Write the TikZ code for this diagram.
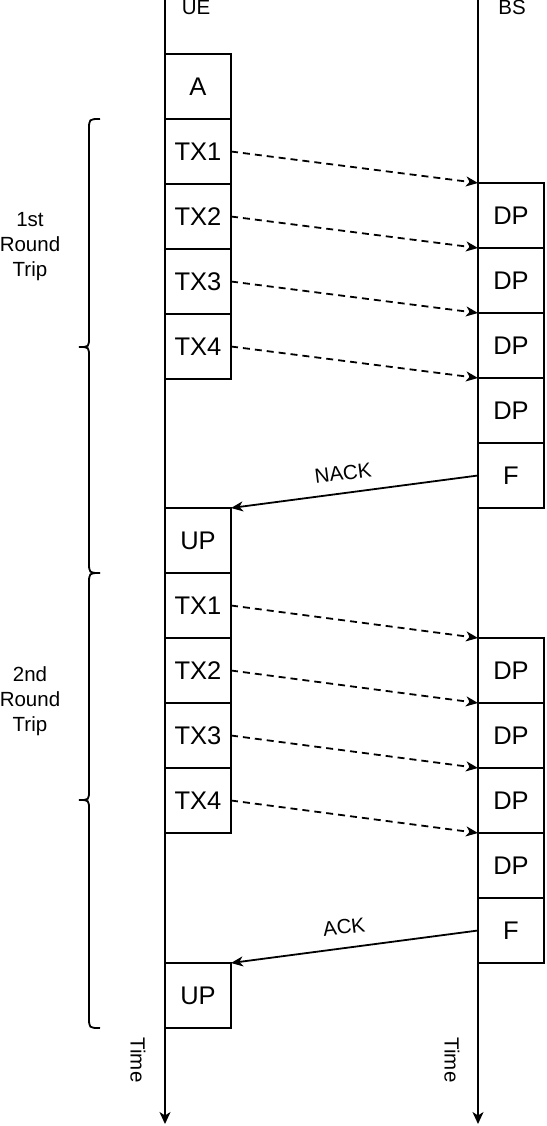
\documentclass[tikz,border=0pt]{standalone}
\usepackage{fontspec}
\setmainfont{Liberation Sans}
\usetikzlibrary{arrows.meta}
\begin{document}
\begin{tikzpicture}[x=1pt,y=-1pt,
  box/.style={draw=black, line width=1.8pt, minimum width=66pt, minimum height=65pt, inner sep=0pt, outer sep=0pt, font=\fontsize{25.5}{30}\selectfont},
  lbl/.style={font=\fontsize{20.5}{25}\selectfont, inner sep=0pt},
  life/.style={line width=1.8pt, -{Stealth[length=12pt,width=11pt,inset=3.5pt]}},
  msg/.style={line width=1.8pt, dash pattern=on 7pt off 5pt, -{Stealth[length=12pt,width=10pt,inset=3.5pt]}},
  reply/.style={line width=1.8pt, -{Stealth[length=12pt,width=10pt,inset=3.5pt]}},
  brace/.style={line width=1.8pt}]
\useasboundingbox (0,0) rectangle (546,1126);
% lifelines
\coordinate (uetop) at (165,0);
\coordinate (uebot) at (165,1124);
\coordinate (bstop) at (478,0);
\coordinate (bsbot) at (478,1124);
\draw[life] (uetop) -- (uebot);
\draw[life] (bstop) -- (bsbot);
\node[lbl, anchor=base] (uelbl) at (196,15) {UE};
\node[lbl, anchor=base] (bslbl) at (512,15) {BS};
\node[lbl, rotate=-90] (time1) at (138,1060) {Time};
\node[lbl, rotate=-90] (time2) at (452,1060) {Time};
% UE boxes, first round
\node[box] (A) at (198,86.5) {A};
\node[box] (t1) at (198,151.5) {TX1};
\node[box] (t2) at (198,216.5) {TX2};
\node[box] (t3) at (198,281.5) {TX3};
\node[box] (t4) at (198,346.5) {TX4};
% BS boxes, first round
\node[box] (d1) at (511,215.5) {DP};
\node[box] (d2) at (511,280.5) {DP};
\node[box] (d3) at (511,345.5) {DP};
\node[box] (d4) at (511,410.5) {DP};
\node[box] (f1) at (511,475.5) {F};
\node[box] (u1) at (198,540.5) {UP};
% second round
\node[box] (s1) at (198,605.5) {TX1};
\node[box] (s2) at (198,670.5) {TX2};
\node[box] (s3) at (198,735.5) {TX3};
\node[box] (s4) at (198,800.5) {TX4};
\node[box] (e1) at (511,670.5) {DP};
\node[box] (e2) at (511,735.5) {DP};
\node[box] (e3) at (511,800.5) {DP};
\node[box] (e4) at (511,865.5) {DP};
\node[box] (f2) at (511,930.5) {F};
\node[box] (u2) at (198,995.5) {UP};
% messages
\draw[msg] (t1.east) -- (d1.north west);
\draw[msg] (t2.east) -- (d2.north west);
\draw[msg] (t3.east) -- (d3.north west);
\draw[msg] (t4.east) -- (d4.north west);
\draw[msg] (s1.east) -- (e1.north west);
\draw[msg] (s2.east) -- (e2.north west);
\draw[msg] (s3.east) -- (e3.north west);
\draw[msg] (s4.east) -- (e4.north west);
\draw[reply] (f1.west) -- (u1.north east);
\draw[reply] (f2.west) -- (u2.north east);
\node[lbl, rotate=7.2] (nack) at (343,473) {NACK};
\node[lbl, rotate=7.0] (ack) at (344,927) {ACK};
% braces
\draw[brace] (100,119) .. controls (89,119) .. (89,130) -- (89,337)
  .. controls (89,347) .. (79,347) .. controls (89,347) .. (89,357)
  -- (89,562) .. controls (89,573) .. (100,573);
\draw[brace] (100,573) .. controls (89,573) .. (89,584) -- (89,790)
  .. controls (89,800) .. (79,800) .. controls (89,800) .. (89,810)
  -- (89,1017) .. controls (89,1028) .. (100,1028);
\node[lbl, align=center] (rt1) at (30,247) {1st\\Round\\Trip};
\node[lbl, align=center] (rt2) at (30,701) {2nd\\Round\\Trip};
\end{tikzpicture}
\end{document}
